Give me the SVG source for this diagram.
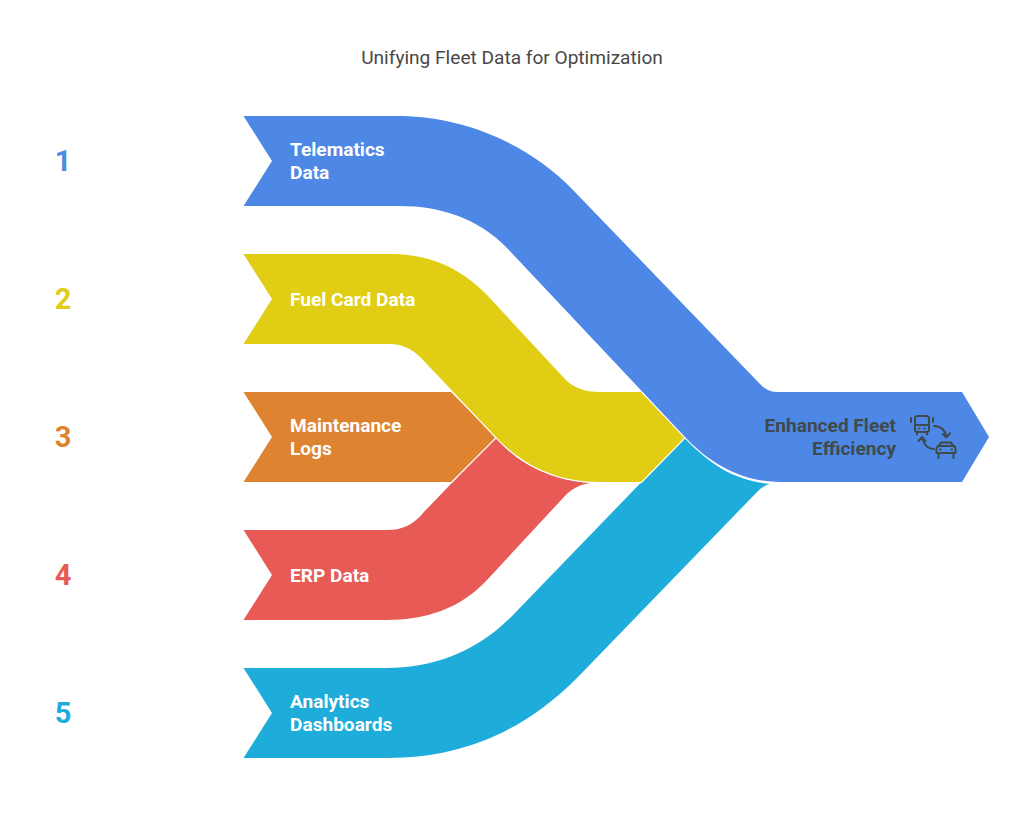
<svg xmlns="http://www.w3.org/2000/svg" width="1024" height="828" viewBox="0 0 1024 828">
<style>
.t{font-family:Roboto,"Liberation Sans",sans-serif;font-size:19.100px;font-weight:700;fill:#fff}
.d{fill:#3f4a4a}
.n{font-family:Roboto,"Liberation Sans",sans-serif;font-size:29px;font-weight:700;text-anchor:middle}
.i{fill:none;stroke:#3f4a4a;stroke-width:2;stroke-linecap:round;stroke-linejoin:round}
.b{stroke:#fff;stroke-width:2.500;paint-order:stroke}
</style>
<rect width="1024" height="828" fill="#fff"/>
<text x="512" y="64" text-anchor="middle" font-family="Roboto,'Liberation Sans',sans-serif" font-size="19.100" fill="#484848">Unifying Fleet Data for Optimization</text>
<g id="connectors">
<path id="band-erp" fill="#e75a55" d="M243.500 530H387C403 530 414 524 423 513L496 437C520 466 550 478 590 483C578 485 570 490 563 498L487 580C460 609 425 620 387 620H243.500L272 575Z"/>
<path id="band-maintenance" class="b" fill="#de8431" d="M243.500 392H451L496 437L451 482H243.500L272 437Z"/>
<path id="band-analytics" fill="#1eacda" d="M243.500 668H387C430 668 475 654 513 615L685 437C710 466 735 480 770 484C765 485 761 488 757 492L577 678C522 733 460 758 387 758H243.500L272 713Z"/>
<path id="band-fuel" class="b" fill="#e0cd14" d="M243.500 254H390C425 254 458 265 487 295L564 378C573 388 585 392 600 392H641L685 437L641 482H600C560 482 525 468 496 437L423 360C414 350 403 344 390 344H243.500L272 299Z"/>
<path id="band-telematics" class="b" fill="#4e88e7" d="M243.500 116H397C465 116 530 145 573 190L760 384C766 390 771 392 780 392H962L989 437L962 482H780C745 482 712 466 685 437L507 248C478 218 440 206 400 206H243.500L272 161Z"/>
</g>
<g id="node-1"><text class="n" x="63" y="171" fill="#4e88e7">1</text><text class="t" x="290" y="156">Telematics</text><text class="t" x="290" y="179">Data</text></g>
<g id="node-2"><text class="n" x="63" y="309" fill="#e0cd14">2</text><text class="t" x="290" y="306">Fuel Card Data</text></g>
<g id="node-3"><text class="n" x="63" y="447" fill="#de8431">3</text><text class="t" x="290" y="432">Maintenance</text><text class="t" x="290" y="455">Logs</text></g>
<g id="node-4"><text class="n" x="63" y="585" fill="#e75a55">4</text><text class="t" x="290" y="582">ERP Data</text></g>
<g id="node-5"><text class="n" x="63" y="723" fill="#1eacda">5</text><text class="t" x="290" y="708">Analytics</text><text class="t" x="290" y="731">Dashboards</text></g>
<g id="node-result">
<text class="t d" x="896" y="432" text-anchor="end">Enhanced Fleet</text>
<text class="t d" x="896" y="455" text-anchor="end">Efficiency</text>
<g id="icon" class="i">
<rect x="915" y="416" width="14" height="16" rx="2.500"/><path d="M915 425H929M917 432V434.500M927 432V434.500M911 418V422M933 418V422M919 428.500h.5M924.500 428.500h.5"/>
<path d="M934 426C941 426 945 430 946.500 437M943 434L946.500 437.500L950 433"/>
<path d="M934 449C928 449 924 445 922 438M918.500 441L922 437L925.500 441"/>
<path d="M936.500 453V449C936.500 447 938 446 939 445.500L941 442.500H951L953 445.500C954.500 446 955.500 447 955.500 449V453ZM938.500 453V458M953.500 453V458M939 446H953M940 449.500h.5M951.500 449.500h.5"/>
</g>
</g>
</svg>
